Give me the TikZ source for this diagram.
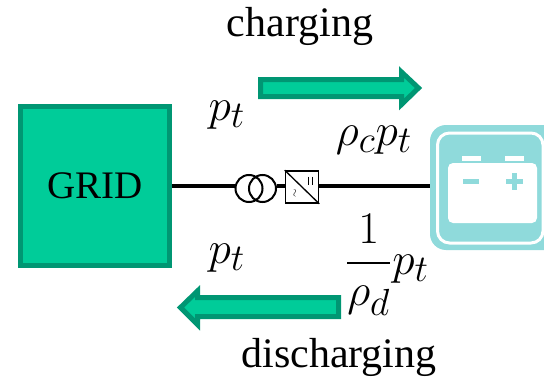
\documentclass[tikz,border=0pt]{standalone}
\usepackage{amsmath}
\usepackage{graphicx}
\usepackage{fontspec}
\setmainfont{Liberation Serif}
\definecolor{gfill}{HTML}{00CC99}
\definecolor{gdark}{HTML}{009673}
\definecolor{batt}{HTML}{8FDADB}
\newcommand{\mathbig}[1]{\scalebox{1.82}{\fontsize{32}{36}\selectfont #1}}
\tikzset{
  lbl/.style={inner sep=0pt,outer sep=0pt,font=\fontsize{42}{46}\selectfont},
  mth/.style={inner sep=0pt,outer sep=0pt},
  flow/.style={draw=gdark,fill=gfill,line width=5pt,miter limit=10},
  wire/.style={line width=3.2pt,black},
  thin/.style={line width=2pt,black}
}
\begin{document}
\begin{tikzpicture}[x=1pt,y=-1pt]
\useasboundingbox (0,0) rectangle (544,380);
\node[draw=gdark,fill=gfill,line width=5pt,minimum width=149pt,minimum height=159pt,inner sep=0pt,font=\fontsize{39}{43}\selectfont] (grid) at (95,186) {GRID};
\coordinate (battin) at (431,186);
\node[thin,draw,circle,minimum size=27pt,inner sep=0pt] (t1) at (249,188.5) {};
\node[thin,draw,circle,minimum size=27pt,inner sep=0pt] (t2) at (262.5,188.5) {};
\node[draw,line width=1.6pt,fill=white,minimum width=33pt,minimum height=32pt,inner sep=0pt] (conv) at (302,187) {};
\draw[wire] (grid.east |- 0,186) -- (t1.west |- 0,186);
\draw[wire] (t2.east |- 0,186) -- (conv.west |- 0,186);
\draw[wire] (conv.east |- 0,186) -- (battin);
\draw[line width=1.3pt] (conv.north west) -- (conv.south east);
\node[inner sep=0pt] (ac) at (295.5,193) {\rotatebox{90}{\scalebox{1.1}{$\sim$}}};
\draw[line width=1.1pt] (308.5,176.5) -- (308.5,185) (312.5,176.5) -- (312.5,185);
\begin{scope}
\clip (0,0) rectangle (544,380);
\fill[batt,rounded corners=16pt] (430,125) rectangle (580,250);
\draw[white,line width=3pt,rounded corners=12pt] (437.5,133) rectangle (543,243);
\fill[white,rounded corners=5pt] (448,163) rectangle (537,223);
\end{scope}
\fill[white] (462,156) rectangle (481,161);
\fill[white] (505,156) rectangle (524,161);
\fill[batt] (463,179) rectangle (479,184);
\fill[batt] (506,179) rectangle (523,184);
\fill[batt] (512,173) rectangle (517,190);
\draw[flow] (260.5,79.5) -- (401.5,79.5) -- (401.5,72) -- (418.5,88) -- (401.5,104.5) -- (401.5,96.5) -- (260.5,96.5) -- cycle;
\draw[flow] (338.5,297.5) -- (197.5,297.5) -- (197.5,291) -- (180.5,307.5) -- (197.5,324.5) -- (197.5,316.5) -- (338.5,316.5) -- cycle;
\node[lbl] (chg) at (300,26) {charging};
\node[lbl] (dis) at (339,357) {discharging};
\node[mth] (p1) at (227,115) {\mathbig{$p_t$}};
\node[mth] (p2) at (374,140) {\mathbig{$\rho_c p_t$}};
\node[mth] (p3) at (227,258) {\mathbig{$p_t$}};
\node[mth] (p4) at (387,265) {\mathbig{$\dfrac{1}{\rho_d}p_t$}};
\end{tikzpicture}
\end{document}
